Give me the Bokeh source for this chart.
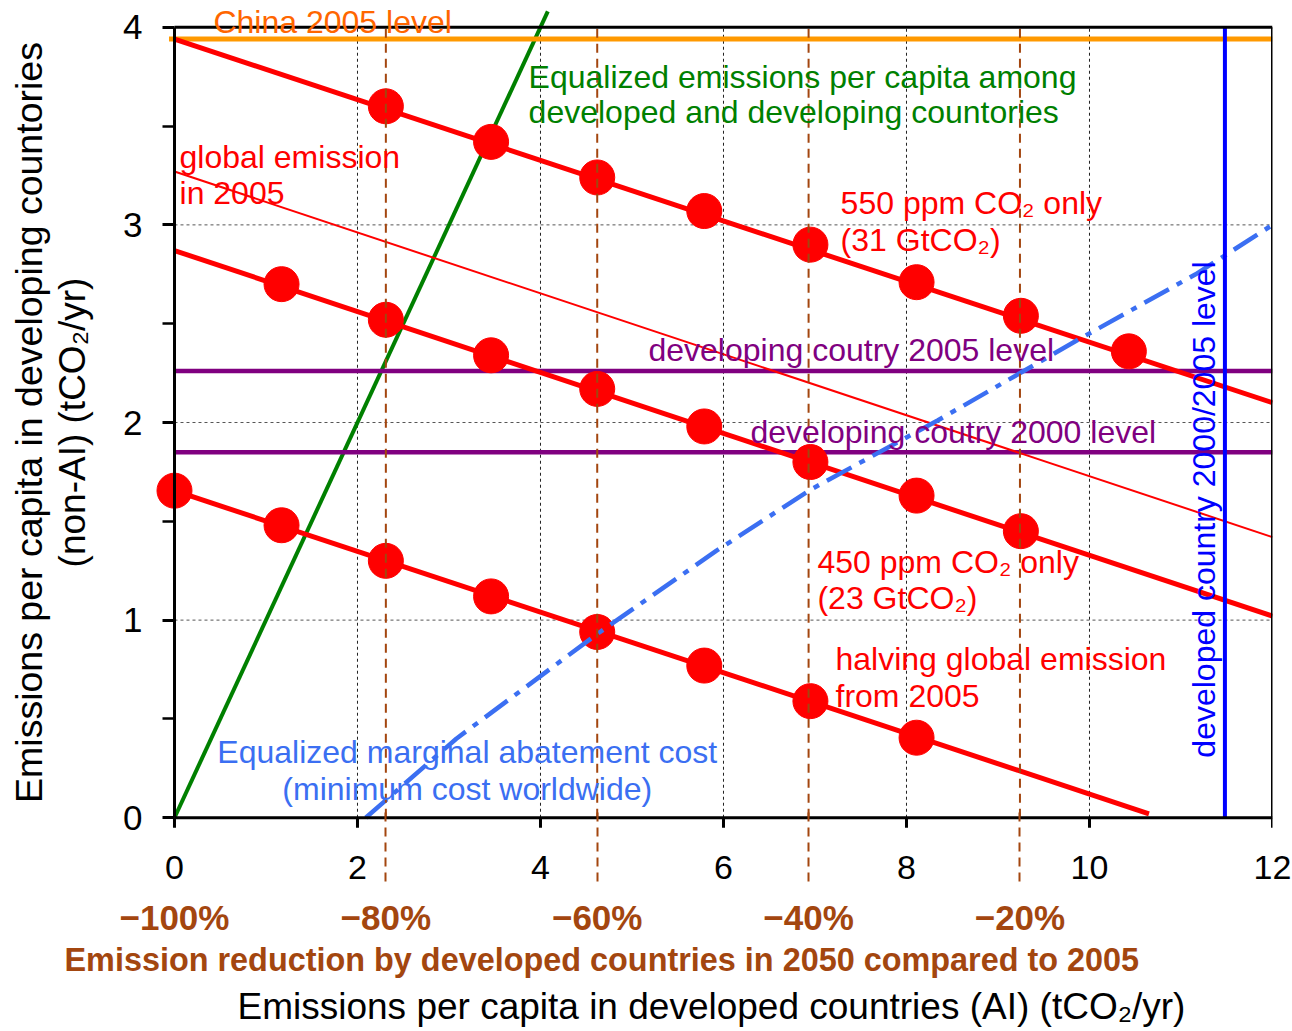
import math
from bokeh.plotting import figure
from bokeh.models import Range1d, LinearAxis, FixedTicker, Title, CustomJSTickFormatter
from bokeh.core.properties import value
from bokeh.embed import file_html
from bokeh.resources import INLINE

# ---- data (tCO2 per capita per year) ----
x_ticks = [0, 2, 4, 6, 8, 10, 12]
y_ticks = [0, 1, 2, 3, 4]
y_minor = [0.5, 1.5, 2.5, 3.5]
grid_x = [2, 4, 6, 8, 10]
grid_y = [1, 2, 3]

# developed-country reduction in 2050 vs 2005 and the matching per-capita level
reduction_x = [0.0, 2.31, 4.62, 6.93, 9.24]
reduction_labels = ["\u2212100%", "\u221280%", "\u221260%", "\u221240%", "\u221220%"]

china_2005 = 3.94
devg_2005 = 2.26
devg_2000 = 1.85
dev_2000_2005 = 11.48

# scenario lines (end points)
line550_x = [0.0, 12.0]
line550_y = [3.94, 2.10]
line450_x = [0.0, 12.0]
line450_y = [2.87, 1.02]
half_x = [0.0, 10.65]
half_y = [1.655, 0.02]
global2005_x = [0.0, 12.0]
global2005_y = [3.27, 1.42]
equal_pc_x = [0.0, 4.08]
equal_pc_y = [0.0, 4.08]

# computed scenario points
pts550_x = [2.31, 3.46, 4.62, 5.79, 6.95, 8.11, 9.25, 10.43]
pts550_y = [3.60, 3.42, 3.24, 3.07, 2.90, 2.71, 2.54, 2.36]
pts450_x = [1.17, 2.31, 3.46, 4.62, 5.79, 6.95, 8.11, 9.25]
pts450_y = [2.70, 2.52, 2.34, 2.17, 1.98, 1.80, 1.63, 1.45]
ptshalf_x = [0.0, 1.17, 2.31, 3.46, 4.62, 5.79, 6.95, 8.11]
ptshalf_y = [1.655, 1.48, 1.30, 1.12, 0.94, 0.77, 0.59, 0.405]

# equalized marginal abatement cost path
mac_x = [2.09, 3.08, 4.62, 5.92, 6.95, 8.34, 9.88, 11.16, 12.0]
mac_y = [0.0, 0.40, 0.93, 1.35, 1.66, 2.01, 2.42, 2.75, 3.0]

FONT = "Liberation Sans"
BROWN = "#a3460f"
TICK_LEN = 0.0506  # 10 px below the x axis line

p = figure(frame_width=1180, frame_height=830,
           x_range=Range1d(-0.896, 12), y_range=Range1d(-0.1, 4.1),
           x_axis_type=None, y_axis_type=None,
           output_backend="svg", toolbar_location=None,
           min_border_left=92, min_border_right=20, min_border_top=7, min_border_bottom=0)
p.outline_line_color = None
p.background_fill_color = "white"
p.border_fill_color = "white"

# ---- axes ----
yaxis = LinearAxis(fixed_location=0, bounds=(0, 4),
                   ticker=FixedTicker(ticks=y_ticks, minor_ticks=y_minor))
yaxis.axis_line_width = 3
yaxis.major_tick_line_width = 3
yaxis.minor_tick_line_width = 2.5
yaxis.major_tick_out = 12
yaxis.major_tick_in = 0
yaxis.minor_tick_out = 12
yaxis.minor_tick_in = 0
yaxis.major_label_standoff = 20
yaxis.major_label_text_font = FONT
yaxis.major_label_text_font_size = "35px"
yaxis.major_label_text_color = "black"
p.add_layout(yaxis, "left")

# x axis: labels from the axis model, line and ticks drawn at y = 0 below
xaxis = LinearAxis(bounds=(0, 12), ticker=FixedTicker(ticks=x_ticks))
xaxis.axis_line_color = None
xaxis.major_tick_line_color = None
xaxis.major_tick_out = 0
xaxis.major_tick_in = 0
xaxis.minor_tick_out = 0
xaxis.minor_tick_in = 0
xaxis.major_label_standoff = 18
xaxis.major_label_text_font = FONT
xaxis.major_label_text_font_size = "34px"
xaxis.major_label_text_color = "black"
p.add_layout(xaxis, "below")

pct_axis = LinearAxis(ticker=FixedTicker(ticks=reduction_x, minor_ticks=reduction_x[1:]))
pct_axis.formatter = CustomJSTickFormatter(args=dict(xs=reduction_x, labels=reduction_labels), code="""
    let best = 0, d = Infinity;
    for (let i = 0; i < xs.length; i++) {
        const e = Math.abs(xs[i] - tick);
        if (e < d) { d = e; best = i; }
    }
    return labels[best];
""")
pct_axis.axis_line_color = None
pct_axis.major_tick_line_color = None
pct_axis.major_tick_out = 0
pct_axis.major_tick_in = 0
pct_axis.minor_tick_line_color = BROWN
pct_axis.minor_tick_line_width = 2
pct_axis.minor_tick_line_dash = "9 6"
pct_axis.minor_tick_in = 75
pct_axis.minor_tick_out = 0
pct_axis.major_label_standoff = 16
pct_axis.major_label_text_font = FONT
pct_axis.major_label_text_font_size = "35px"
pct_axis.major_label_text_font_style = "bold"
pct_axis.major_label_text_color = BROWN
p.add_layout(pct_axis, "below")

p.add_layout(Title(text="Emission reduction by developed countries in 2050 compared to 2005",
                   align="left", offset=-28, standoff=0,
                   text_font=FONT, text_font_size="32.4px", text_font_style="bold",
                   text_color=BROWN), "below")
p.add_layout(Title(text="Emissions per capita in developed countries (AI) (tCO\u2082/yr)",
                   align="left", offset=145, standoff=12,
                   text_font=FONT, text_font_size="37px", text_font_style="normal",
                   text_color="black"), "below")

p.add_layout(Title(text="(non-AI) (tCO\u2082/yr)", align="center", standoff=0,
                   text_font=FONT, text_font_size="37px", text_font_style="normal",
                   text_color="black"), "left")
p.add_layout(Title(text="Emissions per capita in developing countories", align="center",
                   standoff=0,
                   text_font=FONT, text_font_size="37.5px", text_font_style="normal",
                   text_color="black"), "left")

# ---- grid ----
p.segment(x0=grid_x, y0=[0] * len(grid_x), x1=grid_x, y1=[4] * len(grid_x),
          line_color="#222222", line_width=1, line_dash="3 3")
p.segment(x0=[0] * len(grid_y), y0=grid_y, x1=[12] * len(grid_y), y1=grid_y,
          line_color="#555555", line_width=1, line_dash="3 3")

# ---- reference lines ----
p.line(equal_pc_x, equal_pc_y, line_color="#008000", line_width=4)
p.line([0, 12], [devg_2005, devg_2005], line_color="#800080", line_width=4.5)
p.line([0, 12], [devg_2000, devg_2000], line_color="#800080", line_width=4.5)
p.line([-0.06, 12], [china_2005, china_2005], line_color="#ff9900", line_width=5)

# ---- scenario lines and points ----
p.line(global2005_x, global2005_y, line_color="red", line_width=2)
p.line(line550_x, line550_y, line_color="red", line_width=5)
p.line(line450_x, line450_y, line_color="red", line_width=5)
p.line(half_x, half_y, line_color="red", line_width=5)
p.scatter(pts550_x, pts550_y, size=35, color="red")
p.scatter(pts450_x, pts450_y, size=35, color="red")
p.scatter(ptshalf_x, ptshalf_y, size=35, color="red")

p.line(mac_x, mac_y, line_color="#3b6ff2", line_width=4.5, line_dash="28 9 6 9")

# reduction-level guides
p.segment(x0=reduction_x[1:], y0=[0] * 4, x1=reduction_x[1:], y1=[4] * 4,
          line_color=BROWN, line_width=2, line_dash="9 6")

p.line([dev_2000_2005, dev_2000_2005], [0, 4], line_color="#0000ff", line_width=4)

# frame edges, x axis line and its outward ticks
p.line([0, 12], [4, 4], line_color="black", line_width=3)
p.line([12, 12], [0, 4], line_color="black", line_width=3)
p.line([0, 12], [0, 0], line_color="black", line_width=3)
p.segment(x0=x_ticks, y0=[0] * len(x_ticks), x1=x_ticks, y1=[-TICK_LEN] * len(x_ticks),
          line_color="black", line_width=3)

# ---- annotations ----
def note(xs, ys, texts, color, size="32px", align="left", angle=0.0):
    p.text(x=xs, y=ys, text=texts, text_color=color, text_font=value(FONT),
           text_font_size=size, text_align=align, text_baseline="alphabetic", angle=angle)

note([0.426], [4.029], ["China 2005 level"], "#ff6600")
note([3.87, 3.87], [3.746, 3.569],
     ["Equalized emissions per capita among", "developed and developing countories"], "#008000")
note([0.055, 0.055], [3.346, 3.159], ["global emission", "in 2005"], "red")
note([7.28, 7.28], [3.113, 2.926], ["550 ppm CO\u2082 only", "(31 GtCO\u2082)"], "red")
note([5.18], [2.369], ["developing coutry 2005 level"], "#800080")
note([6.295], [1.954], ["developing coutry 2000 level"], "#800080")
note([7.027, 7.027], [1.296, 1.114], ["450 ppm CO\u2082 only", "(23 GtCO\u2082)"], "red")
note([7.224, 7.224], [0.805, 0.618], ["halving global emission", "from 2005"], "red")
note([3.20, 3.20], [0.334, 0.147],
     ["Equalized marginal abatement cost", "(minimum cost worldwide)"], "#3b6ff2", align="center")
note([11.246], [0.304], ["developed country 2000/2005 level"], "#0000ff", angle=math.pi / 2)

open("out.html", "w").write(file_html(p, INLINE))
